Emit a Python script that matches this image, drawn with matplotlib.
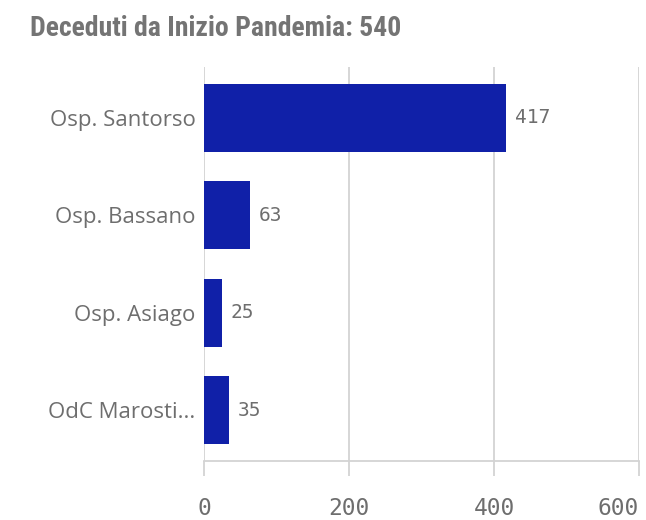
import matplotlib
matplotlib.use("Agg")
import matplotlib.pyplot as plt
from matplotlib import font_manager

# data
hospitals = ["Osp. Santorso", "Osp. Bassano", "Osp. Asiago", "OdC Marosti..."]
deaths = [417, 63, 25, 35]
x_ticks = [0, 200, 400, 600]

bar_color = "#1020a8"
grid_color = "#d3d3d3"
text_color = "#6e6e6e"


def pick_title_font():
    # look for a narrow bold face, otherwise fall back to DejaVu
    names = {f.name for f in font_manager.fontManager.ttflist}
    for cand in ["Liberation Sans Narrow", "DejaVu Sans Condensed", "Roboto Condensed"]:
        if cand in names:
            return cand, "normal"
    return "DejaVu Sans", "condensed"


fig = plt.figure(figsize=(6.46, 5.20), dpi=100)
ax = fig.add_axes([204 / 646, 1 - 461 / 520, 435 / 646, 394 / 520])

pos = list(range(len(hospitals)))
ax.barh(pos, deaths, height=0.70, color=bar_color, zorder=3)

# value labels next to each bar
for y, v in zip(pos, deaths):
    ax.text(v + 12, y, str(v), va="center", ha="left",
            fontsize=14, family="DejaVu Sans Mono", color=text_color)

ax.set_xlim(0, 600)
ax.set_ylim(len(hospitals) - 0.48, -0.52)
ax.set_xticks(x_ticks)
ax.set_xticklabels([str(t) for t in x_ticks], family="DejaVu Sans Mono",
                   fontsize=16.5, color=text_color)
# last tick label sits inside the plot edge, like the reference
ax.get_xticklabels()[-1].set_horizontalalignment("right")
ax.set_yticks(pos)
ax.set_yticklabels(hospitals, family="Open Sans", fontsize=16, color=text_color)

ax.tick_params(axis="y", length=0, pad=6)
ax.tick_params(axis="x", length=11, width=1.3, color=grid_color, pad=15)
ax.xaxis.grid(True, color=grid_color, linewidth=1.3, zorder=0)

for side in ["top", "right", "left"]:
    ax.spines[side].set_visible(False)
ax.spines["bottom"].set_color(grid_color)
ax.spines["bottom"].set_linewidth(1.3)

title_family, title_stretch = pick_title_font()
fig.text(30 / 646, 1 - 15 / 520, f"Deceduti da Inizio Pandemia: {sum(deaths)}",
         ha="left", va="top", fontsize=20, fontweight="bold",
         family=title_family, fontstretch=title_stretch, color="#747474")

fig.savefig("out.png", dpi=100)
